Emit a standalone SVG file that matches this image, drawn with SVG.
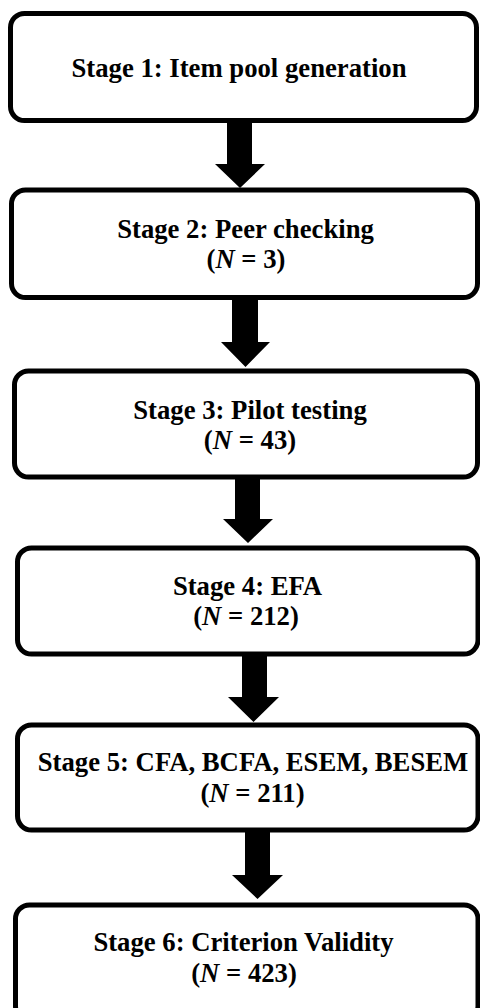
<svg xmlns="http://www.w3.org/2000/svg" width="480" height="1008" viewBox="0 0 480 1008">
<style>
.box{fill:#fff;stroke:#000;stroke-width:5}
.t{font-family:"Liberation Serif","Times New Roman",serif;font-weight:bold;font-size:26.7px;fill:#000;text-anchor:middle}
.i{font-style:italic}
.arr{fill:#000;stroke:none}
</style>
<rect width="480" height="1008" fill="#fff"/>
<g id="connectors">
<polygon class="arr" points="227,122 252,122 252,164 265,164 240,188 215,164 227,164"/>
<polygon class="arr" points="232,299 258,299 258,342 270,342 245.5,367 221,342 232,342"/>
<polygon class="arr" points="235,478 260,478 260,519 273,519 248,543 223,519 235,519"/>
<polygon class="arr" points="242,655 267,655 267,697 279,697 253.5,722 228,697 242,697"/>
<polygon class="arr" points="245,831 270,831 270,875 283,875 257.5,899 232,875 245,875"/>
</g>
<g id="stage1">
<rect class="box" x="10.5" y="13.5" width="466" height="107" rx="14"/>
<text class="t" x="239" y="77">Stage 1: Item pool generation</text>
</g>
<g id="stage2">
<rect class="box" x="11.5" y="190" width="466" height="107.5" rx="14"/>
<text class="t" x="245.5" y="238">Stage 2: Peer checking</text>
<text class="t" x="246" y="268">(<tspan class="i">N</tspan> = 3)</text>
</g>
<g id="stage3">
<rect class="box" x="14.5" y="371" width="463" height="106" rx="14"/>
<text class="t" x="250" y="419">Stage 3: Pilot testing</text>
<text class="t" x="250" y="449">(<tspan class="i">N</tspan> = 43)</text>
</g>
<g id="stage4">
<rect class="box" x="17.5" y="548" width="460.5" height="106" rx="14"/>
<text class="t" x="247.5" y="595">Stage 4: EFA</text>
<text class="t" x="246" y="625">(<tspan class="i">N</tspan> = 212)</text>
</g>
<g id="stage5">
<rect class="box" x="17.5" y="725" width="460.5" height="105" rx="14"/>
<text class="t" x="253" y="771">Stage 5: CFA, BCFA, ESEM, BESEM</text>
<text class="t" x="252.5" y="802">(<tspan class="i">N</tspan> = 211)</text>
</g>
<g id="stage6">
<rect class="box" x="15.5" y="905" width="462.5" height="115" rx="14"/>
<text class="t" x="243.5" y="951">Stage 6: Criterion Validity</text>
<text class="t" x="244" y="982">(<tspan class="i">N</tspan> = 423)</text>
</g>
</svg>
